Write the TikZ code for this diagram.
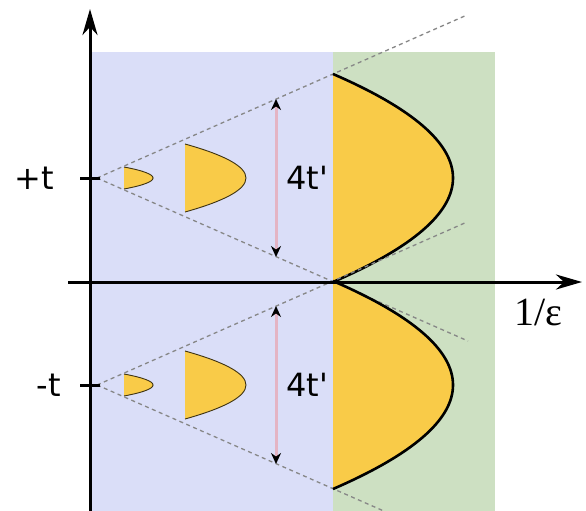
\documentclass[tikz,border=0pt]{standalone}
\usepackage{fontspec}
\usetikzlibrary{arrows.meta}
\newfontfamily\dvsans{DejaVu Sans}
\newfontfamily\libser{Liberation Serif}
\definecolor{regblue}{RGB}{218,222,248}
\definecolor{reggreen}{RGB}{205,224,194}
\definecolor{fillyel}{RGB}{249,203,72}
\definecolor{pinkln}{RGB}{228,180,196}
\definecolor{dashgray}{RGB}{135,135,135}
\begin{document}
\begin{tikzpicture}[x=1pt,y=-1pt,
  axisline/.style={line width=3pt, draw=black},
  axisarrow/.style={axisline, -{Stealth[length=26pt,width=15pt,inset=8pt]}},
  guide/.style={draw=dashgray, line width=1.3pt, dash pattern=on 4pt off 3.5pt},
  blob/.style={fill=fillyel},
  bigedge/.style={draw=black, line width=2.6pt},
  smalledge/.style={draw=black!75!fillyel, line width=0.9pt},
  spanarrow/.style={draw=pinkln, line width=3pt,
    {Stealth[black,length=11pt,width=10pt]}-{Stealth[black,length=11pt,width=10pt]}},
  lbl/.style={font=\dvsans\fontsize{32}{38}\selectfont, inner sep=0pt},
]
\useasboundingbox (0,0) rectangle (586,511);
\fill[white] (0,0) rectangle (586,511);
\begin{scope}
\clip (0,0) rectangle (586,511);
\fill[regblue] (92,52) rectangle (333,511);
\fill[reggreen] (333,52) rectangle (495,511);

% upper and lower cone groups
\foreach \dy/\nm in {0/up,207/lo} {
  \begin{scope}[shift={(0,\dy)}]
    \coordinate (apex\nm) at (97,178);
    \coordinate (ea\nm) at (467,15);
    \coordinate (eb\nm) at (468,341);
    \draw[guide] (apex\nm) -- (ea\nm);
    \draw[guide] (apex\nm) -- (eb\nm);
    % big region
    \path[blob] (333,74) .. controls (493,143.3) and (493,212.7) .. (333,282) -- cycle;
    \draw[bigedge] (333,74) .. controls (493,143.3) and (493,212.7) .. (333,282);
    % medium region
    \path[blob] (185,144) .. controls (266.3,166.7) and (266.3,189.3) .. (185,212) -- cycle;
    \draw[smalledge] (185,144) .. controls (266.3,166.7) and (266.3,189.3) .. (185,212);
    % small region
    \path[blob] (124,167) .. controls (162.7,174.3) and (162.7,181.7) .. (124,189) -- cycle;
    \draw[smalledge] (124,167) .. controls (162.7,174.3) and (162.7,181.7) .. (124,189);
    % width arrow
    \coordinate (st\nm) at (276,99);
    \coordinate (sb\nm) at (276,257);
    \draw[spanarrow] (st\nm) -- (sb\nm);
    \node[lbl] (w\nm) at (307,178) {4t\textquotesingle};
    % tick
    \coordinate (tl\nm) at (80,178);
    \coordinate (tr\nm) at (100,178);
    \draw[axisline] (tl\nm) -- (tr\nm);
  \end{scope}
}

% axes
\coordinate (xs) at (68,282);
\coordinate (xe) at (582,282);
\coordinate (ys) at (90,515);
\coordinate (ye) at (90,9);
\draw[axisarrow] (xs) -- (xe);
\draw[axisarrow] (ys) -- (ye);
\end{scope}

\node[lbl, anchor=east] (plust) at (54,178) {+t};
\node[lbl, anchor=east] (minust) at (61,385) {-t};
\node[inner sep=0pt, font=\libser\fontsize{40}{46}\selectfont] (xlab) at (538,312) {1/ε};
\end{tikzpicture}
\end{document}
